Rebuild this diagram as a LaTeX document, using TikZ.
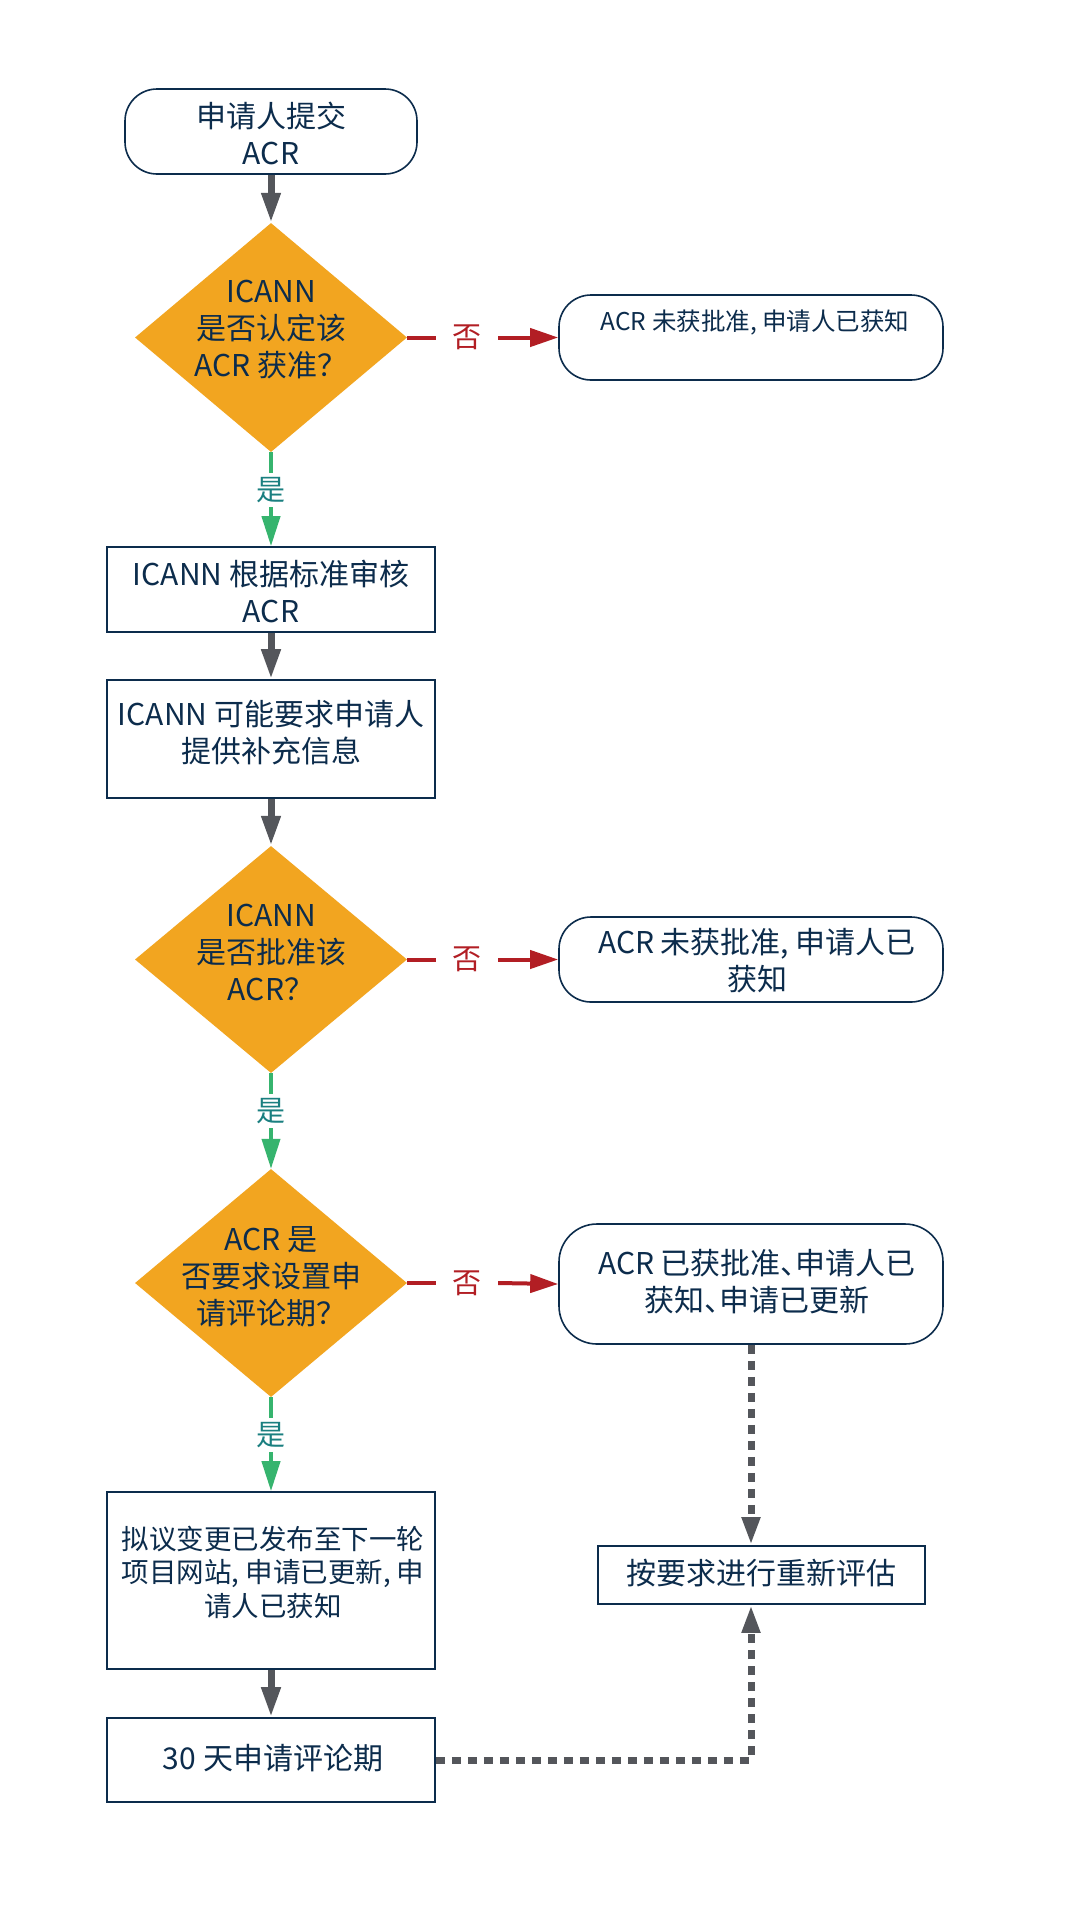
\documentclass[tikz,border=0pt]{standalone}
\usepackage{fontspec}
\setmainfont{Noto Sans CJK SC}
\usetikzlibrary{arrows.meta,shapes.geometric}
\definecolor{navy}{HTML}{0C2C4C}
\definecolor{dorange}{HTML}{F2A520}
\definecolor{nored}{HTML}{B21E24}
\definecolor{yesgreen}{HTML}{36B46E}
\definecolor{yesteal}{HTML}{1A7F80}
\definecolor{arrowgray}{HTML}{54565B}
\newcommand{\dun}{、\kern-0.5em}
\tikzset{
  basebox/.style={draw=navy, line width=1.6pt, fill=white, inner sep=0pt},
  procbox/.style={basebox, rectangle},
  termbox/.style={basebox, rectangle, rounded corners=32pt},
  decision/.style={diamond, fill=dorange, draw=none, inner sep=0pt},
  txt/.style={text=navy, align=center, inner sep=0pt, font=\fontsize{30}{37}\selectfont},
  flow/.style={draw=arrowgray, line width=7pt, -{Triangle[length=30pt,width=18pt]}},
  yesline/.style={draw=yesgreen, line width=4pt},
  yestip/.style={-{Triangle[length=30pt,width=18pt]}},
  noline/.style={draw=nored, line width=4pt},
  notip/.style={-{Triangle[length=28pt,width=18pt]}},
  dashflow/.style={draw=arrowgray, line width=7pt, dash pattern=on 9pt off 7pt, -{Triangle[length=28pt,width=17pt]}},
  nolab/.style={text=nored, inner sep=0pt, minimum width=62pt, font=\fontsize{29}{34}\selectfont},
  yeslab/.style={text=yesteal, inner sep=0pt, minimum height=34pt, font=\fontsize{29}{34}\selectfont},
}
\begin{document}
\begin{tikzpicture}[x=1pt,y=-1pt]
\fill[white] (0,0) rectangle (1091,1920);
\useasboundingbox (0,0) rectangle (1091,1920);

% shapes and texts
\node[termbox, minimum width=292pt, minimum height=85pt] (start) at (271,131.5) {};
\node[txt] (startT) at (271,133.5) {申请人提交\\ACR};

\node[decision, minimum width=272pt, minimum height=229pt] (q1) at (271,337.5) {};
\node[txt] (q1T) at (271,330) {ICANN\\是否认定该\\ACR 获准？};

\node[termbox, minimum width=384pt, minimum height=85pt] (rej1) at (751,337.5) {};
\node[txt, font=\fontsize{24.5}{30}\selectfont] (rej1T) at (755,323) {ACR 未获批准, 申请人已获知};

\node[procbox, minimum width=328pt, minimum height=85pt] (review) at (271,589.5) {};
\node[txt] (reviewT) at (271,591) {ICANN 根据标准审核\\ACR};

\node[procbox, minimum width=328pt, minimum height=118pt] (info) at (271,739) {};
\node[txt] (infoT) at (271,733) {ICANN 可能要求申请人\\提供补充信息};

\node[decision, minimum width=272pt, minimum height=227pt] (q2) at (271,959.5) {};
\node[txt] (q2T) at (271,952.5) {ICANN\\是否批准该\\ACR？};

\node[termbox, minimum width=384pt, minimum height=85pt] (rej2) at (751,959.5) {};
\node[txt] (rej2T) at (757,961) {ACR 未获批准, 申请人已\\获知};

\node[decision, minimum width=272pt, minimum height=228pt] (q3) at (271,1283) {};
\node[txt] (q3T) at (271,1276.5) {ACR 是\\否要求设置申\\请评论期？};

\node[termbox, rounded corners=38pt, minimum width=384pt, minimum height=120pt] (appr) at (751,1284) {};
\node[txt] (apprT) at (757,1282) {ACR 已获批准\dun 申请人已\\获知\dun 申请已更新};

\node[procbox, minimum width=327pt, minimum height=58pt] (reeval) at (761.5,1575) {};
\node[txt] (reevalT) at (761.5,1573) {按要求进行重新评估};

\node[procbox, minimum width=328pt, minimum height=177pt] (post) at (271,1580.5) {};
\node[txt, font=\fontsize{27.5}{33.5}\selectfont] (postT) at (273,1572) {拟议变更已发布至下一轮\\项目网站, 申请已更新, 申\\请人已获知};

\node[procbox, minimum width=328pt, minimum height=84pt] (period) at (271,1760) {};
\node[txt] (periodT) at (273,1758) {30 天申请评论期};

% edge labels
\node[nolab] (n1) at (467,337.5) {否};
\node[nolab] (n2) at (467,959.5) {否};
\node[nolab] (n3) at (467,1283) {否};
\node[yeslab] (y1) at (271,490) {是};
\node[yeslab] (y2) at (271,1111) {是};
\node[yeslab] (y3) at (271,1435) {是};

% connectors
\draw[flow] (start.south) -- (q1.north);
\draw[yesline] (q1.south) -- (y1.north);
\draw[yesline, yestip] (y1.south) -- (review.north);
\draw[noline] (q1.east) -- (n1.west);
\draw[noline, notip] (n1.east) -- (rej1.west);
\draw[flow] (review.south) -- (info.north);
\draw[flow] (info.south) -- (q2.north);
\draw[noline] (q2.east) -- (n2.west);
\draw[noline, notip] (n2.east) -- (rej2.west);
\draw[yesline] (q2.south) -- (y2.north);
\draw[yesline, yestip] (y2.south) -- (q3.north);
\draw[noline] (q3.east) -- (n3.west);
\draw[noline, notip] (n3.east) -- (appr.west);
\draw[yesline] (q3.south) -- (y3.north);
\draw[yesline, yestip] (y3.south) -- (post.north);
\draw[flow] (post.south) -- (period.north);
\draw[dashflow] (appr.south) -- (appr.south |- reeval.north);
\draw[dashflow] (period.east) -| (appr.south |- reeval.south);
\end{tikzpicture}
\end{document}
